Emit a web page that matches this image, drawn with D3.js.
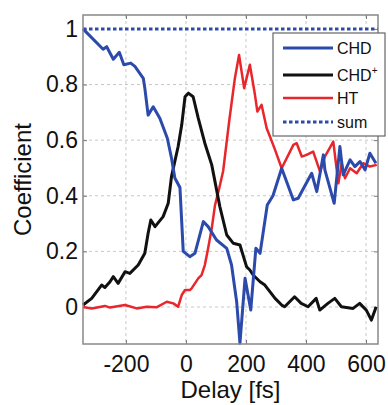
<!DOCTYPE html>
<html>
<head>
<meta charset="utf-8">
<script src="https://cdn.jsdelivr.net/npm/d3@7"></script>
<style>
  body { margin: 0; background: #fff; }
  text { font-family: "Liberation Sans", Arial, sans-serif; fill: #111; }
</style>
</head>
<body>
<svg width="388" height="405"></svg>
<script>
// values (delay in fs, coefficient)
let chdDelay = [-343, -276, -264, -242, -222, -207, -184, -170, -142, -137, -126, -109, -87, -62, -48, -37,
                -20, -9, 13, 30, 58, 74, 102, 136, 152, 169, 180, 197, 216, 233, 247, 271, 290, 319,
                358, 374, 419, 436, 458, 463, 494, 513, 524, 547, 563, 580, 597, 613, 633];
let chdValue = [1.0, 0.927, 0.936, 0.891, 0.916, 0.871, 0.877, 0.865, 0.822, 0.787, 0.69, 0.72, 0.679, 0.607, 0.535, 0.464,
                0.43, 0.2, 0.181, 0.193, 0.307, 0.289, 0.241, 0.211, 0.151, 0.019, -0.13, 0.103, -0.011, 0.211, 0.193, 0.367, 0.40, 0.499,
                0.385, 0.391, 0.481, 0.415, 0.547, 0.493, 0.373, 0.577, 0.475, 0.529, 0.505, 0.523, 0.493, 0.553, 0.517];

let ionDelay = [-343, -314, -281, -270, -253, -242, -226, -203, -187, -159, -137, -126, -117, -103, -76, -59, -48,
                -26, -14, -3, 8, 24, 41, 63, 86, 113, 136, 158, 180, 202, 213, 224, 247, 263, 297, 319,
                329, 362, 384, 407, 434, 446, 473, 496, 518, 557, 579, 601, 618, 634];
let ionValue = [0.007, 0.031, 0.079, 0.07, 0.091, 0.109, 0.085, 0.127, 0.121, 0.151, 0.193, 0.265, 0.313, 0.289, 0.325, 0.373, 0.47,
                0.577, 0.655, 0.756, 0.769, 0.756, 0.679, 0.589, 0.511, 0.361, 0.259, 0.229, 0.223, 0.145, 0.133, 0.115, 0.091, 0.079, 0.031, 0.007,
                0.001, 0.037, 0.013, 0.001, 0.031, -0.011, 0.013, 0.031, 0.001, -0.005, 0.013, -0.011, -0.047, 0.001];

let htDelay = [-343, -314, -270, -253, -203, -164, -131, -98, -64, -42, -26, -14, -3, 13, 19, 41, 52, 63, 74, 86, 97, 111,
               124, 144, 163, 177, 194, 213, 230, 238, 252, 269, 280, 297, 319, 358, 369, 386, 402, 424, 447, 463,
               491, 508, 519, 530, 547, 569, 591, 613, 636];
let htValue = [0.0, -0.005, 0.004, -0.002, 0.007, -0.005, 0.001, -0.001, 0.019, 0.013, 0.001, 0.043, 0.061, 0.061, 0.067, 0.103, 0.115, 0.151, 0.211, 0.283, 0.367, 0.427,
               0.489, 0.667, 0.822, 0.906, 0.787, 0.871, 0.763, 0.703, 0.727, 0.643, 0.613, 0.565, 0.499, 0.583, 0.589, 0.541, 0.547, 0.559, 0.487, 0.541,
               0.595, 0.445, 0.517, 0.463, 0.499, 0.481, 0.517, 0.505, 0.511];

let sumDelay = [-343, 640];
let sumValue = [1, 1];

let xTicks = [-200, 0, 200, 400, 600];
let xTickLabels = ['-200', '0', '200', '400', '600'];
let yTicks = [0, 0.2, 0.4, 0.6, 0.8, 1];
let yTickLabels = ['0', '0.2', '0.4', '0.6', '0.8', '1'];

let svg = d3.select('svg');
let pLeft = 83, pRight = 378, pTop = 15, pBottom = 344;

let xScale = d3.scaleLinear().domain([-343, 640]).range([pLeft, pRight]);
let yScale = d3.scaleLinear().domain([-0.133, 1.05]).range([pBottom, pTop]);

// grid
svg.append('g')
  .selectAll('line.vgrid')
  .data(xTicks)
  .enter()
  .append('line')
  .attr('x1', d => xScale(d)).attr('x2', d => xScale(d))
  .attr('y1', pTop).attr('y2', pBottom)
  .attr('stroke', '#c8c8c8').attr('stroke-width', 1).attr('stroke-dasharray', '3,3');

svg.append('g')
  .selectAll('line.hgrid')
  .data(yTicks)
  .enter()
  .append('line')
  .attr('y1', d => yScale(d)).attr('y2', d => yScale(d))
  .attr('x1', pLeft).attr('x2', pRight)
  .attr('stroke', '#c8c8c8').attr('stroke-width', 1).attr('stroke-dasharray', '3,3');

// axes
let xAxis = d3.axisBottom(xScale).tickValues(xTicks).tickSize(-4).tickPadding(10)
               .tickFormat((d, i) => xTickLabels[i]);
let yAxis = d3.axisLeft(yScale).tickValues(yTicks).tickSize(-4).tickPadding(5)
               .tickFormat((d, i) => yTickLabels[i]);

let xG = svg.append('g').attr('transform', 'translate(0,' + pBottom + ')').call(xAxis);
let yG = svg.append('g').attr('transform', 'translate(' + pLeft + ',0)').call(yAxis);
svg.append('g').attr('transform', 'translate(0,' + pTop + ')')
  .call(d3.axisTop(xScale).tickValues(xTicks).tickSize(-4).tickFormat(''));
svg.append('g').attr('transform', 'translate(' + pRight + ',0)')
  .call(d3.axisRight(yScale).tickValues(yTicks).tickSize(-4).tickFormat(''));

svg.selectAll('.domain').remove();
svg.selectAll('.tick line').attr('stroke', '#777');
xG.selectAll('text').style('font-size', '23px').attr('dy', '0.8em').style('fill', '#111');
yG.selectAll('text').style('font-size', '23px').style('fill', '#111');

// lines
let line = d3.line()
  .x(d => xScale(d[0]))
  .y(d => yScale(d[1]));

function draw(xs, ys, color, width, dash) {
  svg.append('path')
    .attr('d', line(d3.zip(xs, ys)))
    .attr('fill', 'none')
    .attr('stroke', color)
    .attr('stroke-width', width)
    .attr('stroke-linejoin', 'round')
    .attr('stroke-dasharray', dash);
}

draw(htDelay, htValue, '#e8262b', 2.5, null);
draw(ionDelay, ionValue, '#111111', 3, null);
draw(chdDelay, chdValue, '#2b4aab', 3, null);
draw(sumDelay, sumValue, '#2b4aab', 3, '3.5,2.5');

// box
svg.append('rect')
  .attr('x', pLeft).attr('y', pTop)
  .attr('width', pRight - pLeft).attr('height', pBottom - pTop)
  .attr('fill', 'none').attr('stroke', '#888').attr('stroke-width', 1.5);

// labels
svg.append('text')
  .attr('x', (pLeft + pRight) / 2).attr('y', 398)
  .attr('text-anchor', 'middle')
  .style('font-size', '24px')
  .text('Delay [fs]');

svg.append('text')
  .attr('transform', 'translate(31,' + (pTop + pBottom) / 2 + ') rotate(-90)')
  .attr('text-anchor', 'middle')
  .style('font-size', '24px')
  .text('Coefficient');

// legend
let legendNames = ['CHD', 'CHD', 'HT', 'sum'];
let legendColors = ['#2b4aab', '#111111', '#e8262b', '#2b4aab'];
let legendY = [48, 75, 98, 122];

let lg = svg.append('g');
lg.append('rect')
  .attr('x', 273).attr('y', 33)
  .attr('width', 112).attr('height', 103)
  .attr('fill', '#fff').attr('stroke', '#666').attr('stroke-width', 1.2);

legendNames.forEach(function(name, i) {
  lg.append('line')
    .attr('x1', 283).attr('x2', 333)
    .attr('y1', legendY[i]).attr('y2', legendY[i])
    .attr('stroke', legendColors[i])
    .attr('stroke-width', i == 2 ? 2.5 : 3)
    .attr('stroke-dasharray', i == 3 ? '3.5,2.5' : null);
  let t = lg.append('text')
    .attr('x', 337).attr('y', legendY[i] + 6)
    .style('font-size', '16px')
    .text(name);
  if (i == 1) {
    t.append('tspan').attr('dy', -7).style('font-size', '10px').text('+');
  }
});
</script>
</body>
</html>
